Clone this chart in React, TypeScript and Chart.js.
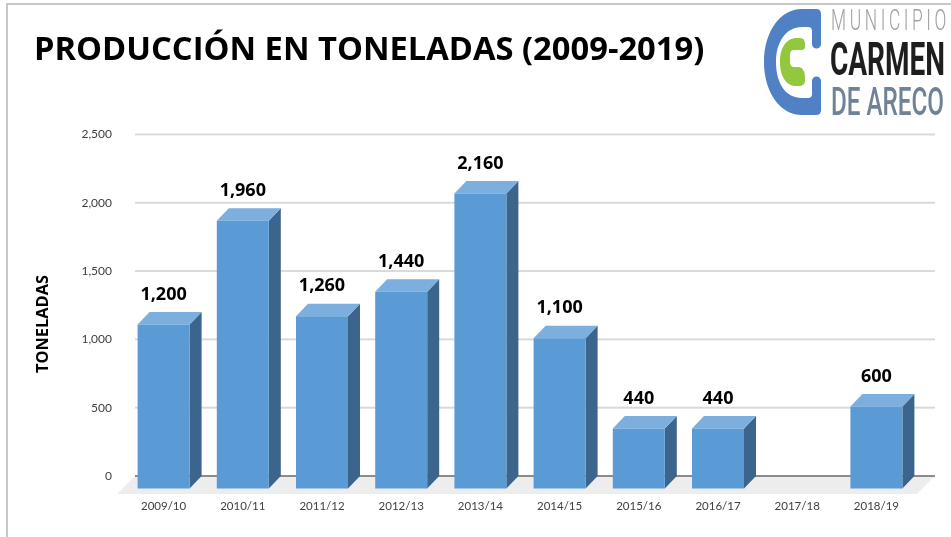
import React, { useEffect, useRef } from "react";
import { Chart, registerables } from "chart.js";

Chart.register(...registerables);

const categories = ["2009/10", "2010/11", "2011/12", "2012/13", "2013/14", "2014/15", "2015/16", "2016/17", "2017/18", "2018/19"];
const production: (number | null)[] = [1200, 1960, 1260, 1440, 2160, 1100, 440, 440, null, 600];
const yTicksMax = 2500;
const yTicksStep = 500;
const titleText = "PRODUCCIÓN EN TONELADAS (2009-2019)";
const yAxisTitle = "TONELADAS";

const DEPTH_X = 12;
const DEPTH_Y = 12.5;
const GRID_RIGHT = 935;

const FRONT = "#5B9BD5";
const TOP = "#7CAEDE";
const SIDE = "#3B658D";
const FLOOR = "#EDEDED";
const GRID = "#D9D9D9";
const AXIS = "#8C8C8C";

const poly = (ctx: CanvasRenderingContext2D, pts: number[][], fill: string) => {
  ctx.beginPath();
  pts.forEach(([x, y], i) => (i ? ctx.lineTo(x, y) : ctx.moveTo(x, y)));
  ctx.closePath();
  ctx.fillStyle = fill;
  ctx.fill();
};

const wallPlugin = {
  id: "wall",
  beforeDatasetsDraw(chart: any) {
    const { ctx, chartArea, scales } = chart;
    const y = scales.y;
    const left = chartArea.left - 1;
    const base = y.getPixelForValue(0);
    ctx.save();
    poly(ctx, [[left, base], [GRID_RIGHT, base], [GRID_RIGHT - 18, base + 18], [left - 18, base + 18]], FLOOR);
    for (let v = yTicksStep; v <= yTicksMax; v += yTicksStep) {
      const p = y.getPixelForValue(v);
      ctx.fillStyle = GRID;
      ctx.fillRect(left, p - 1, GRID_RIGHT - left, 2);
    }
    ctx.fillStyle = AXIS;
    ctx.fillRect(left, base - 1, GRID_RIGHT - left, 2);
    ctx.restore();
  },
};

const bars3dPlugin = {
  id: "bars3d",
  afterDatasetsDraw(chart: any) {
    const { ctx } = chart;
    const meta = chart.getDatasetMeta(0);
    ctx.save();
    meta.data.forEach((bar: any, i: number) => {
      const value = production[i];
      if (value == null) return;
      const { x, y, base, width } = bar.getProps(["x", "y", "base", "width"], true);
      const l = x - width / 2;
      const r = x + width / 2;
      const fl = l - DEPTH_X;
      const fr = r - DEPTH_X;
      const ft = y + DEPTH_Y;
      const fb = base + DEPTH_Y;
      poly(ctx, [[fr, ft], [r, y], [r, base], [fr, fb]], SIDE);
      poly(ctx, [[fl, ft], [l, y], [r, y], [fr, ft]], TOP);
      poly(ctx, [[fl, ft], [fr, ft], [fr, fb], [fl, fb]], FRONT);
      ctx.fillStyle = "#000000";
      ctx.font = "bold 18px 'Open Sans'";
      ctx.textAlign = "center";
      ctx.textBaseline = "middle";
      ctx.fillText(value.toLocaleString("en-US"), x - DEPTH_X, y - 17.5);
    });
    // vertical axis title
    ctx.translate(43, 324);
    ctx.rotate(-Math.PI / 2);
    ctx.fillStyle = "#000000";
    ctx.font = "bold 16.4px 'Open Sans'";
    ctx.textAlign = "center";
    ctx.textBaseline = "middle";
    ctx.fillText(yAxisTitle, 0, 0);
    ctx.restore();
  },
};

function Logo() {
  return (
    <svg width={951} height={537} style={{ position: "absolute", left: 0, top: 0, pointerEvents: "none" }}>
      <path
        d="M816 9 Q821 9 821 14 V44 A4.5 4.5 0 0 1 812 44 V31 Q812 27 808 27 H802 C786 27 776 42 776 62 C776 84 786 98 802 98 H808 Q812 98 812 94 V81 A4.5 4.5 0 0 1 821 81 V110 Q821 115 816 115 H802 C780 115 764 92 764 62 C764 32 780 9 802 9 Z"
        fill="#4F81C4"
      />
      <path
        d="M797 38 H800 Q805 38 805 44 V47 Q805 50 801 50 H794 Q790 50 790 55 V62 Q790 67 794 67 H798 C803 67 805 72 805 77 V80 Q805 86 799 86 H796 C786 86 780 76 780 62 C780 48 786 38 797 38 Z"
        fill="#93C83E"
      />
      <text transform="translate(831,30) scale(0.6,1)" fontFamily="Roboto" fontWeight={300} fontSize={29} fill="#A0A0A0" letterSpacing={6}>
        MUNICIPIO
      </text>
      <text x={830} y={75} fontFamily="Roboto" fontWeight={700} fontSize={46} fill="#1E1E1E" textLength={115} lengthAdjust="spacingAndGlyphs">
        CARMEN
      </text>
      <text x={831} y={115} fontFamily="Roboto" fontWeight={500} fontSize={39} fill="#6F8296" textLength={113} lengthAdjust="spacingAndGlyphs">
        DE ARECO
      </text>
    </svg>
  );
}

export default function App() {
  const ref = useRef<HTMLCanvasElement>(null);
  useEffect(() => {
    const chart = new Chart(ref.current!, {
      type: "bar",
      data: {
        labels: categories,
        datasets: [
          {
            label: "Toneladas",
            data: production,
            backgroundColor: "rgba(0,0,0,0)",
            barThickness: 52,
          },
        ],
      },
      plugins: [wallPlugin, bars3dPlugin],
      options: {
        responsive: false,
        animation: false,
        layout: { padding: { left: 34, right: 23, top: 0, bottom: 0 } },
        plugins: {
          legend: { display: false },
          tooltip: { enabled: false },
          title: {
            display: true,
            text: titleText,
            align: "start",
            color: "#000000",
            font: { family: "'Open Sans'", size: 32.7, weight: "bold" },
            padding: { top: 31, bottom: 64.2 },
          },
        },
        scales: {
          x: {
            grid: { display: false },
            border: { display: false },
            ticks: { color: "#404040", font: { family: "Lato", size: 11.5 }, padding: 15, labelOffset: -12, maxRotation: 0, autoSkip: false },
            afterFit: (s: any) => { s.height = 61; },
          },
          y: {
            min: 0,
            max: yTicksMax,
            grid: { display: false, drawTicks: false },
            border: { display: false },
            ticks: {
              stepSize: yTicksStep,
              color: "#404040",
              font: { family: "Lato", size: 12 },
              padding: 24,
              callback: (v: any) => Number(v).toLocaleString("en-US"),
            },
            afterFit: (s: any) => { s.width = 102; },
          },
        },
      },
    } as any);
    return () => chart.destroy();
  }, []);
  return (
    <div style={{ position: "fixed", left: 0, top: 0, width: 951, height: 537, background: "#FFFFFF", overflow: "hidden" }}>
      <canvas ref={ref} width={951} height={537} style={{ display: "block" }} />
      <div style={{ position: "absolute", left: 6, top: 3, width: 945, height: 534, boxSizing: "border-box", borderTop: "2px solid #C8C8C8", borderLeft: "2px solid #C8C8C8" }} />
      <Logo />
    </div>
  );
}
